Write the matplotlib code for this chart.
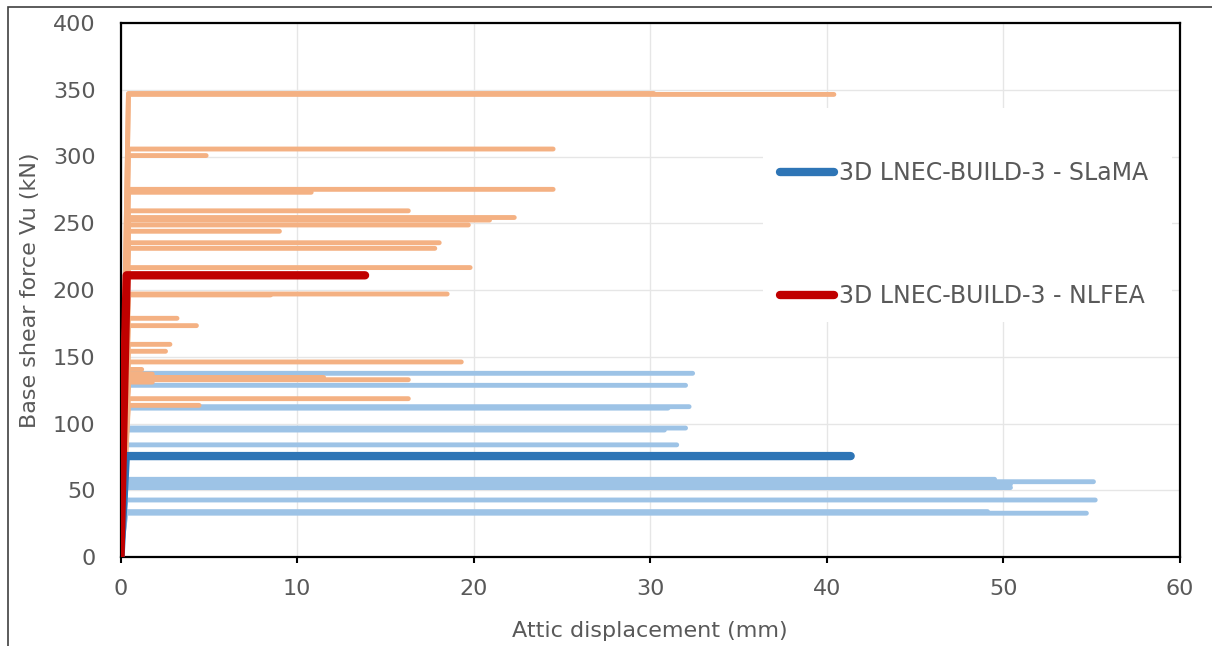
import matplotlib
matplotlib.use("Agg")
import matplotlib.pyplot as plt
from matplotlib.patches import Rectangle

# ---------------- data ----------------
# Light blue family of pushover curves: plateau shear (kN) and ultimate displacement (mm)
blue_V = [137.6, 128.6, 112.6, 111.5, 96.6, 95.1, 84.0, 58.2, 56.4, 54.5, 52.0, 42.7, 34.0, 32.8]
blue_du = [32.4, 32.0, 32.2, 31.0, 32.0, 30.8, 31.5, 49.5, 55.1, 50.4, 50.4, 55.2, 49.1, 54.7]
blue_dy = 0.3

# Light orange family of pushover curves
orange_V = [347.2, 346.5, 305.6, 300.7, 275.4, 273.2, 259.3, 254.3, 252.4, 248.7, 244.0,
            235.4, 231.2, 216.8, 197.0, 196.3, 178.8, 173.3, 159.3, 154.1, 146.1,
            140.5, 137.0, 131.0, 134.5, 133.6, 132.8, 118.6, 113.6]
orange_du = [30.2, 40.4, 24.5, 4.85, 24.5, 10.8, 16.3, 22.3, 20.9, 19.7, 9.0,
             18.05, 17.8, 19.8, 18.5, 8.5, 3.2, 4.3, 2.8, 2.55, 19.3,
             1.2, 1.8, 1.8, 11.5, 11.5, 16.3, 16.3, 4.45]
orange_dy = 0.45

# Highlighted curves
slama_x = [0.0, 0.3, 41.35]
slama_y = [0.0, 75.6, 75.6]
nlfea_x = [0.0, 0.35, 13.85]
nlfea_y = [0.0, 211.0, 211.0]

labels = ["3D LNEC-BUILD-3 - SLaMA", "3D LNEC-BUILD-3 - NLFEA"]
x_ticks = [0, 10, 20, 30, 40, 50, 60]
y_ticks = [0, 50, 100, 150, 200, 250, 300, 350, 400]

# ---------------- figure ----------------
W, H = 1212, 646
fig = plt.figure(figsize=(W / 100, H / 100), dpi=100)
fig.patch.set_facecolor("white")

# outer chart-area border (only top and left edges visible)
fig.patches.append(Rectangle((8 / W, -0.5), 2.0, 1.5 - 7 / H, transform=fig.transFigure,
                             fill=False, edgecolor="#404040", linewidth=1.2, zorder=0))

L, R, B, T = 120.5, 1180, 557, 23
ax = fig.add_axes([L / W, 1 - B / H, (R - L) / W, (B - T) / H])

grey = "#595959"
c_blue_l = "#9DC3E6"
c_orange_l = "#F4B183"
c_blue = "#2E75B6"
c_red = "#C00000"

lw_light = 3.5
for V, du in zip(blue_V, blue_du):
    ax.plot([0, blue_dy, du], [0, V, V], color=c_blue_l, lw=lw_light,
            solid_capstyle="round", solid_joinstyle="round", zorder=2)
for V, du in zip(orange_V, orange_du):
    ax.plot([0, orange_dy, du], [0, V, V], color=c_orange_l, lw=lw_light,
            solid_capstyle="round", solid_joinstyle="round", zorder=3)

l1, = ax.plot(slama_x, slama_y, color=c_blue, lw=6.0, solid_capstyle="round",
              solid_joinstyle="round", zorder=4, label=labels[0])
l2, = ax.plot(nlfea_x, nlfea_y, color=c_red, lw=6.0, solid_capstyle="round",
              solid_joinstyle="round", zorder=5, label=labels[1])

ax.set_xlim(0, 60)
ax.set_ylim(0, 400)
ax.set_xticks(x_ticks)
ax.set_yticks(y_ticks)
ax.grid(True, color="#E6E6E6", lw=1.0)
ax.set_axisbelow(True)

for s in ax.spines.values():
    s.set_color("black")
    s.set_linewidth(1.6)

ax.tick_params(axis="x", direction="out", length=4, width=1.5, color="black",
               labelsize=16, labelcolor=grey, pad=12)
ax.tick_params(axis="y", length=0, labelsize=16, labelcolor=grey, pad=18)

ax.set_xlabel("Attic displacement (mm)", fontsize=16, color=grey)
ax.set_ylabel("Base shear force Vu (kN)", fontsize=16, color=grey)
ax.xaxis.label.set_va("center")
ax.yaxis.label.set_va("center")
ax.xaxis.set_label_coords(0.5, (B - 631) / (B - T))
ax.yaxis.set_label_coords((30 - L) / (R - L), 0.5)

# white legend area hiding gridlines
ax.add_patch(Rectangle(((763 - L) / (R - L), (B - 322) / (B - T)),
                       (1172 - 763) / (R - L), (322 - 108) / (B - T),
                       transform=ax.transAxes, facecolor="white", edgecolor="none",
                       zorder=1))

leg = ax.legend(handles=[l1, l2], loc="upper left",
                bbox_to_anchor=((780 - L) / (R - L), (B - 161) / (B - T)),
                frameon=False, fontsize=17, handlelength=2.3, handletextpad=0.2,
                labelspacing=4.2, borderpad=0, borderaxespad=0)
for t in leg.get_texts():
    t.set_color(grey)

fig.savefig("out.png", dpi=100, facecolor="white")
